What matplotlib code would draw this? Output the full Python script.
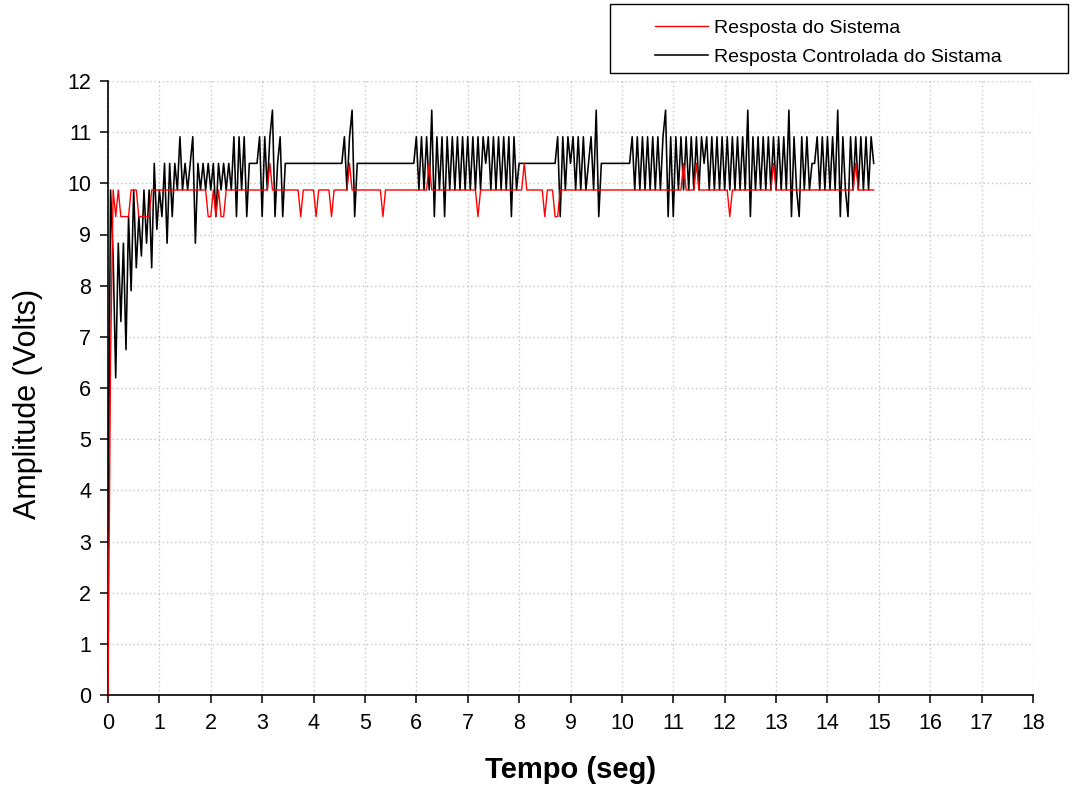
"""System response vs controlled response, sampled every 50 ms."""

import matplotlib
matplotlib.use('Agg')
import matplotlib.pyplot as plt
from matplotlib.patches import Rectangle
import numpy as np


SAMPLE_PERIOD = 0.05  # s

# quantized ADC levels (V) referenced by the code rows below
LEVELS = [8.83, 9.35, 9.87, 10.39, 10.91, 11.43]

# first second of each signal, read directly in volts
SYSTEM_START = [0.0, 6.60, 9.87, 9.35, 9.87, 9.35, 9.35, 9.35, 9.35, 9.87,
                9.87, 9.87, 9.35, 9.35, 9.35, 9.35, 9.35, 9.87, 9.87, 9.87]
CONTROLLED_START = [2.90, 9.87, 8.58, 6.20, 8.83, 7.30, 8.83, 6.75, 9.35, 7.90,
                    9.87, 8.35, 9.35, 8.58, 9.87, 8.83, 9.87, 8.35, 10.39, 9.10]

# one row per second from t = 1 s on, values are indices into LEVELS
SYSTEM_CODES = [
    [2, 2, 2, 2, 2, 2, 2, 2, 2, 2, 2, 2, 2, 2, 2, 2, 2, 2, 2, 1],
    [1, 2, 1, 2, 1, 1, 2, 2, 2, 2, 2, 2, 2, 2, 2, 2, 2, 2, 2, 2],
    [2, 2, 2, 3, 2, 2, 2, 2, 2, 2, 2, 2, 2, 2, 2, 1, 2, 2, 2, 2],
    [2, 1, 2, 2, 2, 2, 2, 1, 2, 2, 2, 2, 2, 2, 3, 2, 2, 2, 2, 2],
    [2, 2, 2, 2, 2, 2, 2, 1, 2, 2, 2, 2, 2, 2, 2, 2, 2, 2, 2, 2],
    [2, 2, 2, 2, 2, 3, 2, 2, 2, 2, 2, 2, 2, 2, 2, 2, 2, 2, 2, 2],
    [2, 2, 2, 2, 1, 2, 2, 2, 2, 2, 2, 2, 2, 2, 2, 2, 2, 2, 2, 2],
    [2, 2, 3, 2, 2, 2, 2, 2, 2, 2, 1, 2, 2, 2, 1, 1, 2, 2, 2, 2],
    [2, 2, 2, 2, 2, 2, 2, 2, 2, 2, 2, 2, 2, 2, 2, 2, 2, 2, 2, 2],
    [2, 2, 2, 2, 2, 2, 2, 2, 2, 2, 2, 2, 2, 2, 2, 2, 2, 2, 2, 2],
    [2, 2, 2, 2, 3, 2, 2, 2, 2, 3, 2, 2, 2, 2, 2, 2, 2, 2, 2, 2],
    [2, 2, 1, 2, 2, 2, 2, 2, 2, 2, 2, 2, 2, 2, 2, 2, 2, 2, 2, 3],
    [2, 2, 2, 2, 2, 2, 2, 2, 2, 2, 2, 2, 2, 2, 2, 2, 2, 2, 2, 2],
    [2, 2, 2, 2, 2, 2, 2, 2, 2, 2, 2, 3, 2, 2, 2, 2, 2, 2, 2],
]
CONTROLLED_CODES = [
    [2, 1, 3, 0, 3, 1, 3, 2, 4, 2, 3, 2, 3, 4, 0, 3, 2, 3, 2, 3],
    [2, 3, 1, 3, 2, 3, 2, 3, 2, 4, 1, 4, 2, 4, 1, 3, 3, 3, 3, 4],
    [1, 4, 2, 4, 5, 1, 3, 4, 1, 3, 3, 3, 3, 3, 3, 3, 3, 3, 3, 3],
    [3, 3, 3, 3, 3, 3, 3, 3, 3, 3, 3, 3, 4, 2, 4, 5, 1, 3, 3, 3],
    [3, 3, 3, 3, 3, 3, 3, 3, 3, 3, 3, 3, 3, 3, 3, 3, 3, 3, 3, 3],
    [4, 2, 4, 2, 4, 2, 5, 1, 4, 2, 4, 1, 4, 2, 4, 2, 4, 2, 4, 2],
    [4, 2, 4, 2, 4, 2, 4, 3, 4, 2, 4, 2, 4, 2, 4, 2, 4, 1, 4, 2],
    [3, 3, 3, 3, 3, 3, 3, 3, 3, 3, 3, 3, 3, 3, 3, 4, 1, 4, 2, 4],
    [3, 4, 2, 4, 2, 4, 2, 3, 4, 2, 5, 1, 3, 3, 3, 3, 3, 3, 3, 3],
    [3, 3, 3, 3, 4, 2, 4, 2, 4, 2, 4, 2, 4, 2, 4, 2, 4, 5, 1, 4],
    [1, 4, 2, 4, 2, 4, 2, 4, 2, 4, 2, 4, 3, 4, 2, 4, 2, 4, 2, 4],
    [2, 4, 2, 4, 2, 4, 2, 4, 2, 5, 1, 4, 2, 4, 2, 4, 2, 4, 2, 4],
    [2, 4, 2, 4, 2, 5, 1, 4, 2, 1, 4, 2, 4, 2, 3, 3, 4, 2, 4, 2],
    [4, 2, 4, 2, 5, 1, 4, 2, 1, 4, 2, 4, 2, 4, 2, 4, 2, 4, 3],
]

X_TICKS = list(range(0, 19))
Y_TICKS = list(range(0, 13))


def _decode(start, code_rows):
    """Join the raw first second with the level-coded rows."""
    values = list(start)
    for row in code_rows:
        values.extend(LEVELS[code] for code in row)
    return np.array(values)


def main():
    plt.rcParams['font.family'] = 'Liberation Sans'

    system = _decode(SYSTEM_START, SYSTEM_CODES)
    controlled = _decode(CONTROLLED_START, CONTROLLED_CODES)
    t_system = np.arange(len(system)) * SAMPLE_PERIOD
    t_controlled = np.arange(len(controlled)) * SAMPLE_PERIOD

    fig = plt.figure(figsize=(10.72, 7.93), dpi=100)
    ax = fig.add_axes([108 / 1072, 1 - 695 / 793, 925 / 1072, 614 / 793])

    black_line, = ax.plot(t_controlled, controlled, color='black',
                          linewidth=1.15, zorder=3)
    red_line, = ax.plot(t_system, system, color='#ff0000',
                        linewidth=1.0, zorder=4)

    ax.set_xlim(0, 18)
    ax.set_ylim(0, 12)
    ax.set_xticks(X_TICKS)
    ax.set_yticks(Y_TICKS)
    ax.grid(True, color='#c4c4c4', linestyle=(0, (1, 2)), linewidth=1.0)
    ax.set_axisbelow(True)

    for side in ('top', 'right'):
        ax.spines[side].set_visible(False)
    for side in ('left', 'bottom'):
        ax.spines[side].set_linewidth(1.2)
    ax.tick_params(direction='out', length=6, width=1.1, labelsize=15.5,
                   pad=6)
    ax.tick_params(axis='x', pad=7)

    ax.set_xlabel('Tempo (seg)', fontsize=21, fontweight='bold')
    ax.xaxis.set_label_coords(0.5, -0.10)
    ax.set_ylabel('Amplitude (Volts)', fontsize=22)
    ax.yaxis.set_label_coords(-0.0865, 0.474)
    ax.yaxis.label.set_verticalalignment('center')

    fig.legend(
        [red_line, black_line],
        ['Resposta do Sistema', 'Resposta Controlada do Sistama'],
        loc='upper left',
        bbox_to_anchor=(655 / 1072, 1 - 19 / 793),
        frameon=False,
        fontsize=14,
        borderpad=0,
        borderaxespad=0,
        handlelength=2.75,
        handletextpad=0.28,
        labelspacing=0.6)
    fig.add_artist(Rectangle(
        (610 / 1072, 1 - 73 / 793), 458 / 1072, 69 / 793,
        transform=fig.transFigure, fill=False, edgecolor='black',
        linewidth=1.0))

    fig.savefig('out.png', dpi=100)


if __name__ == '__main__':
    main()
